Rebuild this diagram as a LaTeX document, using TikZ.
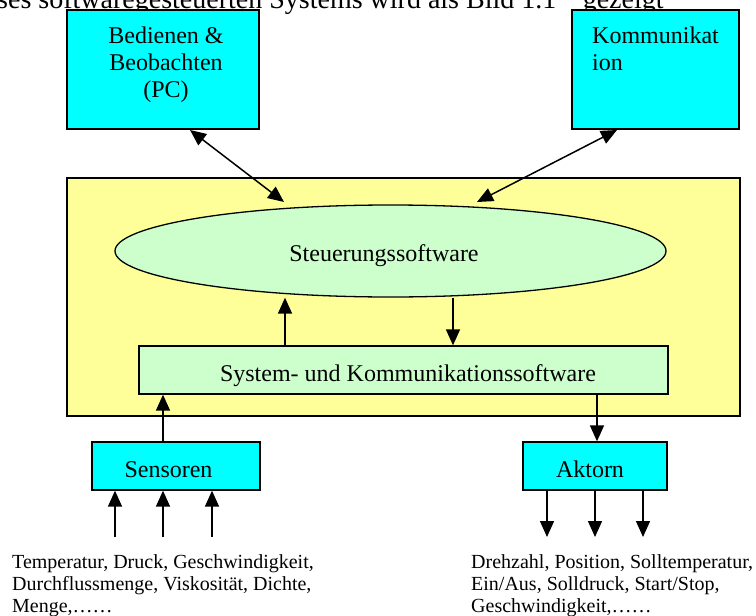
\documentclass[tikz,border=0pt]{standalone}
\usepackage{fontspec}
\setmainfont{Liberation Serif}
\usetikzlibrary{shapes.geometric,arrows.meta}
\definecolor{boxcyan}{RGB}{0,255,255}
\definecolor{softyellow}{RGB}{255,255,153}
\definecolor{softgreen}{RGB}{204,255,204}
\tikzset{
  blk/.style={draw=black, line width=1.3pt, inner sep=0pt},
  cyanbox/.style={blk, fill=boxcyan},
  greenbox/.style={blk, fill=softgreen},
  lbl/.style={font=\fontsize{24}{27}\selectfont, inner sep=0pt},
  note/.style={font=\fontsize{20}{22}\selectfont, inner sep=0pt, align=left},
  conn/.style={line width=1.5pt, -{Triangle[length=16pt,width=14pt]}},
  biconn/.style={line width=1.5pt, {Triangle[length=16pt,width=14pt]}-{Triangle[length=16pt,width=14pt]}},
}
\begin{document}
\begin{tikzpicture}[x=1pt,y=-1pt]
\clip (0,0) rectangle (756,616);
\fill[white] (0,0) rectangle (756,616);

% running text above the figure, cut by the page edge
\node[anchor=base west, inner sep=0pt, font=\fontsize{28}{30}\selectfont] (headline) at (-3,8)
  {ses softwaregesteuerten Systems wird als Bild 1.1 “ gezeigt};

% upper boxes (a multi-line node's base is its last line)
\node[cyanbox, minimum width=192pt, minimum height=119pt] (pc) at (163,69.5) {};
\node[lbl, align=center, anchor=base] (pctext) at (166,97)
  {Bedienen \&\\Beobachten\\(PC)};
\node[cyanbox, minimum width=167pt, minimum height=119pt] (kom) at (655.5,69.5) {};
\node[lbl, align=left, anchor=base west] (komtext) at (592,70)
  {Kommunikat\\ion};

% controller frame
\node[blk, fill=softyellow, minimum width=673pt, minimum height=238pt] (frame) at (403.5,297) {};
\node[greenbox, shape=ellipse, minimum width=551pt, minimum height=92pt] (ctrl) at (390.5,251) {};
\node[lbl, anchor=base] (ctrltext) at (384,261) {Steuerungssoftware};
\node[greenbox, minimum width=529pt, minimum height=48pt] (sys) at (403.5,370) {};
\node[lbl, anchor=base] (systext) at (408,381) {System- und Kommunikationssoftware};

% field devices
\node[cyanbox, minimum width=168pt, minimum height=48pt] (sens) at (176,466) {};
\node[lbl, anchor=base] (senstext) at (168.5,477) {Sensoren};
\node[cyanbox, minimum width=144pt, minimum height=48pt] (akt) at (595,466) {};
\node[lbl, anchor=base] (akttext) at (590,477) {Aktorn};

% signal lists
\node[note, anchor=base west] (inlist) at (12,612)
  {Temperatur, Druck, Geschwindigkeit,\\Durchflussmenge, Viskosität, Dichte,\\Menge,……};
\node[note, anchor=base west] (outlist) at (471,612)
  {Drehzahl, Position, Solltemperatur,\\Ein/Aus, Solldruck, Start/Stop,\\Geschwindigkeit,……};

% connections to the upper boxes
\coordinate (pcA) at (190,130);
\coordinate (pcB) at (284,202);
\draw[biconn] (pcA) -- (pcB);
\coordinate (komA) at (617,130);
\coordinate (komB) at (477,202);
\draw[biconn] (komA) -- (komB);

% inside the frame
\draw[conn] (sys.north -| 285,0) -- (ctrl.south -| 285,0);
\draw[conn] (ctrl.south -| 453,0) -- (sys.north -| 453,0);

% sensors and actors
\draw[conn] (sens.north -| 163,0) -- (sys.south -| 163,0);
\draw[conn] (sys.south -| 597,0) -- (akt.north -| 597,0);

\foreach \x/\n in {115/a,163/b,212/c}{
  \coordinate (in\n) at (\x,537);
  \draw[conn] (in\n) -- (sens.south -| in\n);
}
\foreach \x/\n in {547/a,595/b,643/c}{
  \coordinate (out\n) at (\x,537);
  \draw[conn] (akt.south -| out\n) -- (out\n);
}
\end{tikzpicture}
\end{document}
